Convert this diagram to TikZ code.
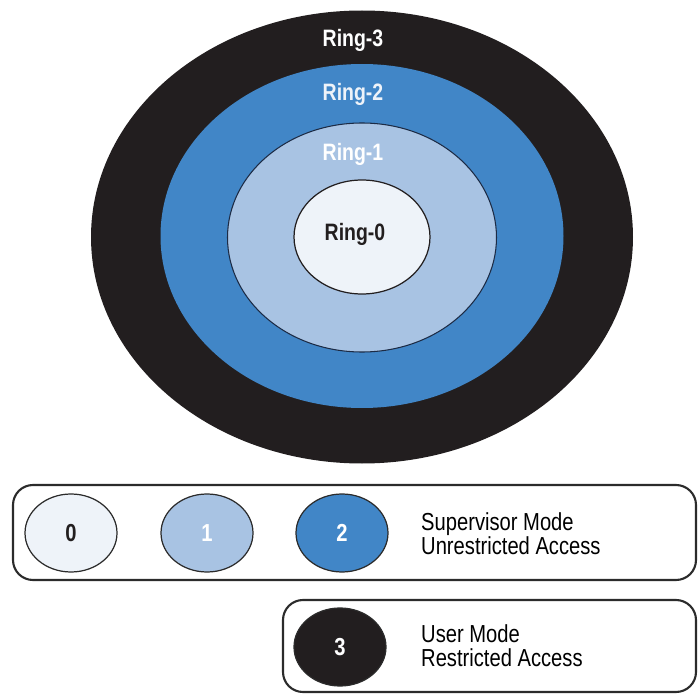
\documentclass[tikz,border=0pt]{standalone}
\usepackage{fontspec}
\setmainfont{Liberation Sans}[FakeStretch=0.82]
\usetikzlibrary{shapes.geometric}
\definecolor{ringblack}{HTML}{221E1F}
\definecolor{ringblue}{HTML}{4186C7}
\definecolor{ringlight}{HTML}{A8C3E3}
\definecolor{ringpale}{HTML}{EEF3F9}
\definecolor{edgeblue}{HTML}{1C2B45}
\definecolor{boxline}{HTML}{2B2B2B}

\begin{document}
\begin{tikzpicture}[
  ringlbl/.style={font=\fontsize{13.5}{14}\selectfont\bfseries},
  legdot/.style={ellipse, draw=boxline, line width=0.7pt, inner sep=0pt,
    minimum width=1.84cm, minimum height=1.56cm, font=\fontsize{14}{14}\selectfont\bfseries},
  legbox/.style={draw=boxline, line width=1.2pt, rounded corners=0.4cm},
  legtext/.style={anchor=west, align=left, font=\fontsize{14}{13.6}\selectfont}]
  \useasboundingbox (0,0) rectangle (13.96,13.9);

  % Ringe
  \fill[ringblack] (7.24,9.16) ellipse [x radius=5.42, y radius=4.53];
  \fill[ringblue] (7.24,9.18) ellipse [x radius=4.03, y radius=3.44];
  \filldraw[fill=ringlight, draw=edgeblue, line width=0.6pt] (7.24,9.15) ellipse [x radius=2.69, y radius=2.29];
  \filldraw[fill=ringpale, draw=ringblack, line width=0.7pt] (7.24,9.16) ellipse [x radius=1.36, y radius=1.14];

  % Beschriftung der Ringe
  \node[ringlbl, text=white] (ring3) at (7.06,13.1) {Ring-3};
  \node[ringlbl, text=ringpale] (ring2) at (7.06,12.02) {Ring-2};
  \node[ringlbl, text=white] (ring1) at (7.06,10.82) {Ring-1};
  \node[ringlbl, text=ringblack] (ring0) at (7.1,9.22) {Ring-0};

  % Legende oben
  \draw[legbox] (0.26,2.3) rectangle (13.92,4.2);
  \node[legdot, fill=ringpale, text=ringblack] (leg0) at (1.42,3.24) {0};
  \node[legdot, fill=ringlight, text=white] (leg1) at (4.14,3.24) {1};
  \node[legdot, fill=ringblue, text=white] (leg2) at (6.84,3.24) {2};
  \node[legtext] (sup) at (8.3,3.23) {Supervisor Mode\\Unrestricted Access};

  % Legende unten
  \draw[legbox] (5.66,0.06) rectangle (13.92,1.9);
  \node[legdot, fill=ringblack, text=white] (leg3) at (6.8,0.96) {3};
  \node[legtext] (usr) at (8.3,0.98) {User Mode\\Restricted Access};
\end{tikzpicture}
\end{document}
